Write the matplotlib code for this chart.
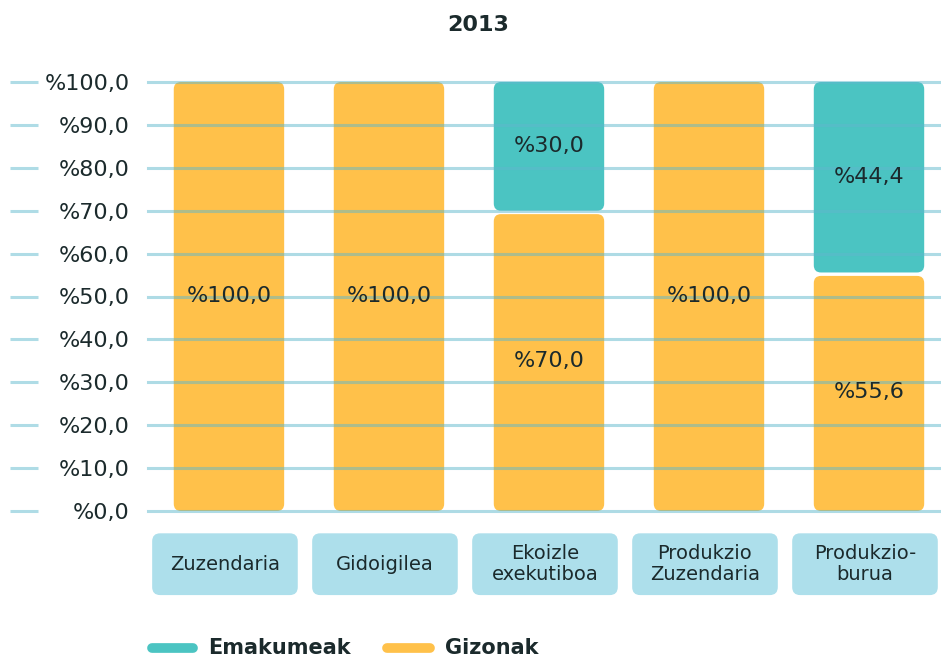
import matplotlib.pyplot as plt
from matplotlib.patches import FancyBboxPatch
from matplotlib.transforms import blended_transform_factory

plt.rcParams['font.family'] = ['DejaVu Sans']

title = "2013"
categories = ["Zuzendaria", "Gidoigilea", "Ekoizle\nexekutiboa",
              "Produkzio\nZuzendaria", "Produkzio-\nburua"]
gizonak = [100.0, 100.0, 70.0, 100.0, 55.6]
emakumeak = [0.0, 0.0, 30.0, 0.0, 44.4]
yticks = list(range(0, 101, 10))

TEAL = "#4bc4c2"
YELLOW = "#ffc14a"
BOX = "#addfeb"
TEXT = "#1b2a2c"


def fmt(v):
    return "%" + f"{v:.1f}".replace(".", ",")


fig = plt.figure(figsize=(9.41, 6.59), dpi=100)
ax = fig.add_axes([148 / 941, 148 / 659, 793 / 941, 429 / 659])
ax.set_xlim(-0.506, 4.45)
ax.set_ylim(0, 100)

# px per data unit, used to keep corners round
px_x = 160.0
px_y = 429 / 100.0
aspect = px_x / px_y

x = list(range(len(categories)))
bars_g = ax.bar(x, gizonak, width=0.69, color=YELLOW)
bars_e = ax.bar(x, emakumeak, width=0.69, bottom=gizonak, color=TEAL)

gap = 0.8
for bars, vals, lower in ((bars_g, gizonak, True), (bars_e, emakumeak, False)):
    for rect, v in zip(bars, vals):
        rect.remove()
        if v <= 0:
            continue
        y0, h = rect.get_y(), rect.get_height()
        if lower and y0 + h < 99.9:
            h -= gap
        p = FancyBboxPatch((rect.get_x(), y0), rect.get_width(), h,
                           boxstyle="round,pad=0,rounding_size=0.045",
                           mutation_aspect=aspect, facecolor=rect.get_facecolor(),
                           edgecolor="none", zorder=2, clip_on=False)
        ax.add_patch(p)
        ax.text(rect.get_x() + rect.get_width() / 2, rect.get_y() + rect.get_height() / 2,
                fmt(v), ha="center", va="center", fontsize=16, color=TEXT, zorder=4)

# grid lines drawn over the bars
for t in yticks:
    ax.axhline(t, color="#5fb8cc", alpha=0.5, lw=2.2, zorder=3, clip_on=False)
trans = blended_transform_factory(ax.transAxes, ax.transData)
ax.hlines(yticks, (10 - 148) / 793, (38 - 148) / 793, transform=trans,
          color="#afdce6", lw=2.2, clip_on=False)

ax.set_yticks(yticks)
ax.set_yticklabels([fmt(t) for t in yticks], fontsize=16, color=TEXT)
ax.tick_params(axis="y", length=0, pad=13)
ax.set_xticks([])
for s in ax.spines.values():
    s.set_visible(False)

# category label boxes
for xi, cat in zip(x, categories):
    b = FancyBboxPatch((xi - 0.48, -19.6), 0.91, 14.4,
                       boxstyle="round,pad=0,rounding_size=0.05",
                       mutation_aspect=aspect, facecolor=BOX, edgecolor="none",
                       clip_on=False)
    ax.add_patch(b)
    ax.text(xi - 0.025, -12.4, cat, ha="center", va="center", fontsize=14,
            color=TEXT, linespacing=1.15)

fig.text(478 / 941, 1 - 25 / 659, title, ha="center", va="center",
         fontsize=16, fontweight="bold", color=TEXT)

# legend
ly = 1 - 648 / 659
for x0, x1, col, lab in ((152, 193, TEAL, "Emakumeak"), (387, 430, YELLOW, "Gizonak")):
    fig.add_artist(plt.Line2D([x0 / 941, x1 / 941], [ly, ly], color=col, lw=7,
                              solid_capstyle="round"))
    fig.text((x1 + 15) / 941, ly, lab, ha="left", va="center", fontsize=15,
             fontweight="bold", color=TEXT)

fig.savefig("out.png", dpi=100)
